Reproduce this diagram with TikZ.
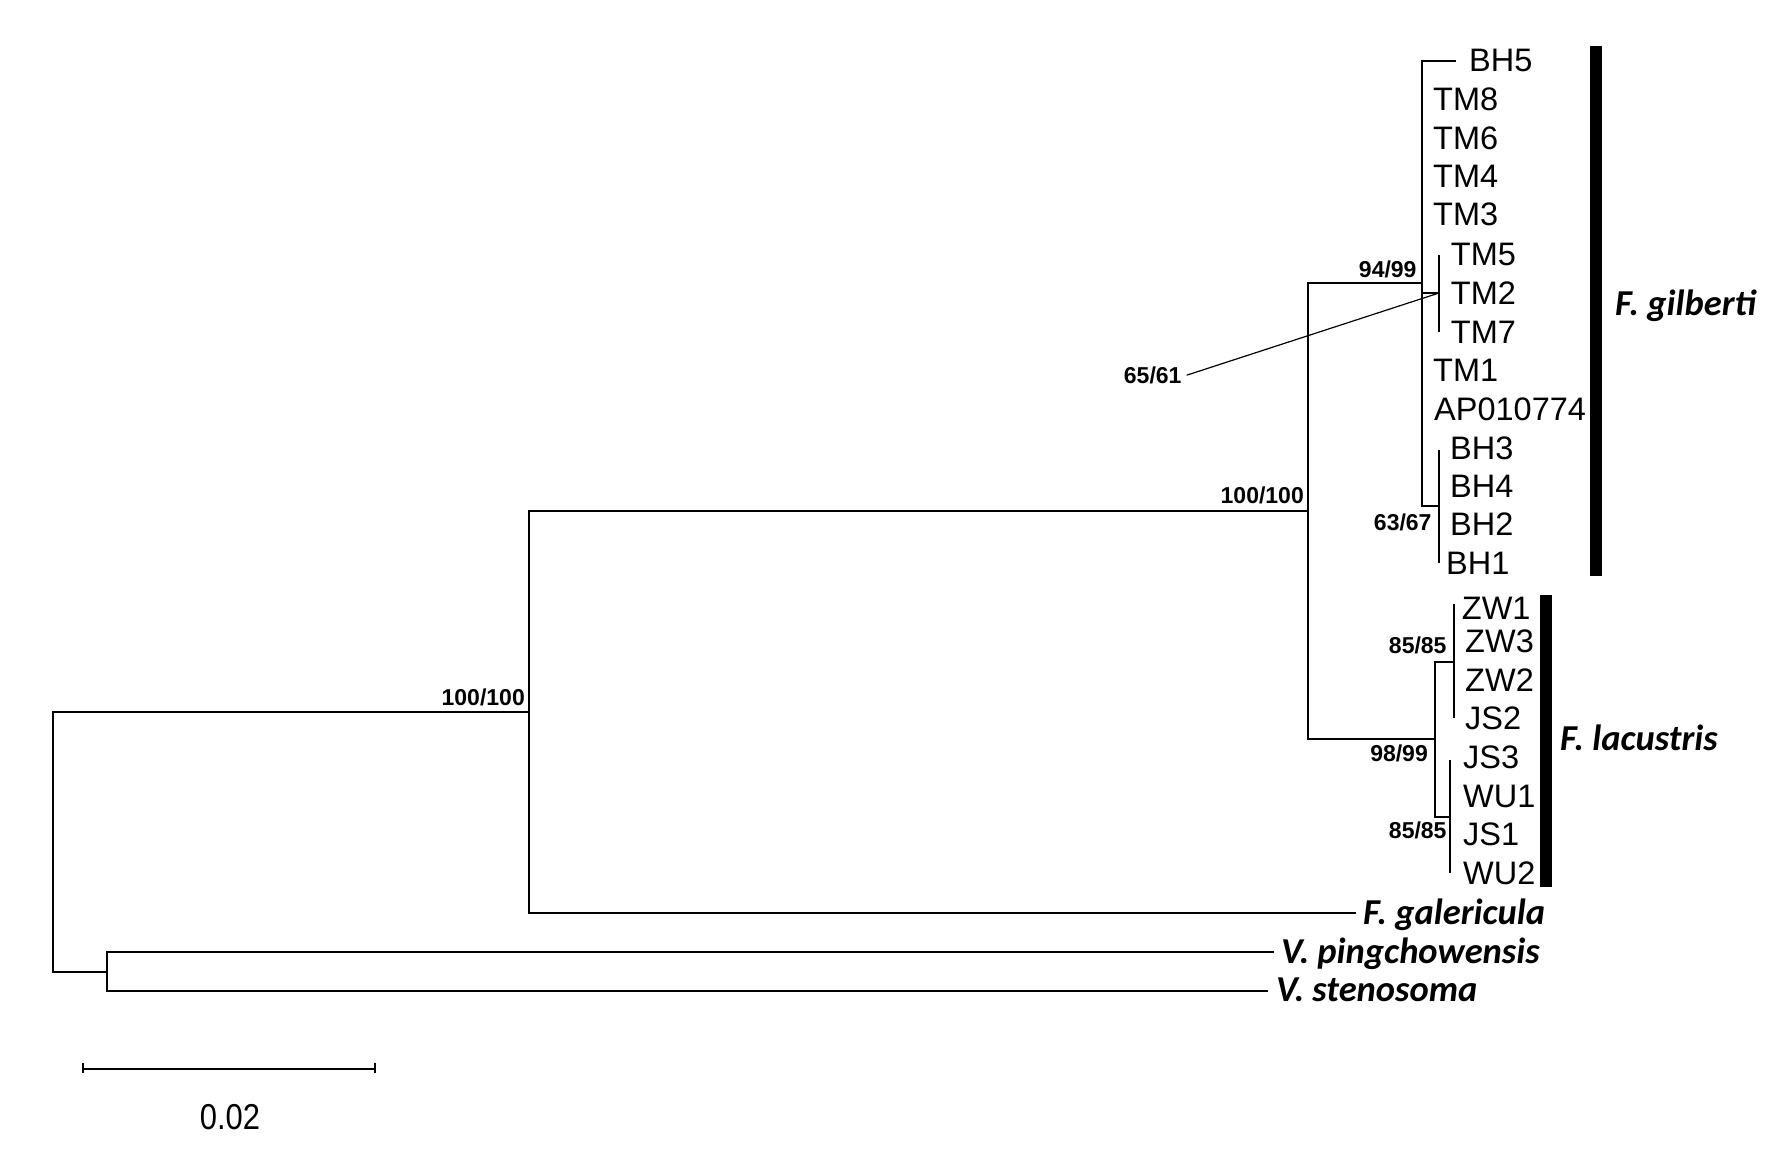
\documentclass[tikz,border=0pt]{standalone}
\usepackage{fontspec}
\setmainfont{Liberation Sans}
\newfontfamily\spfont{Carlito}
\newfontfamily\sbfont[FakeStretch=0.86]{Liberation Sans}
\begin{document}
\begin{tikzpicture}[x=1pt,y=-1pt,
  branch/.style={line width=1.8pt},
  leader/.style={line width=1.2pt},
  scalebar/.style={line width=1.8pt},
  leaf/.style={anchor=west, inner sep=0pt, font=\fontsize{32.5}{39}\selectfont, text height=23.3pt, text depth=0pt},
  species/.style={anchor=west, inner sep=0pt, font=\spfont\bfseries\itshape\fontsize{36.5}{42}\selectfont, text height=23.5pt, text depth=0pt},
  support/.style={anchor=base east, inner sep=0pt, font=\bfseries\fontsize{23}{27}\selectfont},
  cladebar/.style={fill=black}]
\useasboundingbox (0,0) rectangle (1771,1174);

% internal nodes
\coordinate (root) at (53.3,842);
\coordinate (n1) at (529,712);
\coordinate (n2) at (1308,511);
\coordinate (n3) at (1421.7,283);
\coordinate (ntm) at (1439,293);
\coordinate (ntmA) at (1439,255);
\coordinate (ntmB) at (1439,331.5);
\coordinate (nbh) at (1439,506);
\coordinate (nbhA) at (1439,450);
\coordinate (nbhB) at (1439,563);
\coordinate (nlac) at (1435,739);
\coordinate (nzw) at (1454,661.7);
\coordinate (nzwA) at (1454,604);
\coordinate (nzwB) at (1454,718);
\coordinate (njs) at (1450,816.7);
\coordinate (njsA) at (1450,760);
\coordinate (njsB) at (1450,873);
\coordinate (nv) at (106.7,972);
% tips
\coordinate (tBH5) at (1455.7,60.7);
\coordinate (tgal) at (1356,913);
\coordinate (tping) at (1274,952);
\coordinate (tsten) at (1268,991);

% branches
\draw[branch] (n1) -| (root) |- (nv);
\draw[branch] (n2) -| (n1) |- (tgal);
\draw[branch] (n3) -| (n2) |- (nlac);
\draw[branch] (tBH5) -| (n3) |- (nbh);
\draw[branch] (n3 |- ntm) -- (ntm);
\draw[branch] (ntmA) -- (ntmB);
\draw[branch] (nbhA) -- (nbhB);
\draw[branch] (nzw) -| (nlac) |- (njs);
\draw[branch] (nzwA) -- (nzwB);
\draw[branch] (njsA) -- (njsB);
\draw[branch] (tping) -| (nv) |- (tsten);

% leaf labels
\node[leaf] (BH5) at (1469,60) {BH5};
\node[leaf] (TM8) at (1433,99) {TM8};
\node[leaf] (TM6) at (1433,137.5) {TM6};
\node[leaf] (TM4) at (1433,176) {TM4};
\node[leaf] (TM3) at (1433,214) {TM3};
\node[leaf] (TM5) at (1450.7,254) {TM5};
\node[leaf] (TM2) at (1450.7,292.5) {TM2};
\node[leaf] (TM7) at (1450.7,331.5) {TM7};
\node[leaf] (TM1) at (1433,370) {TM1};
\node[leaf] (AP) at (1434,409) {AP010774};
\node[leaf] (BH3) at (1450,447.7) {BH3};
\node[leaf] (BH4) at (1450,486) {BH4};
\node[leaf] (BH2) at (1450,524) {BH2};
\node[leaf] (BH1) at (1446,563) {BH1};
\node[leaf] (ZW1) at (1461.7,608) {ZW1};
\node[leaf] (ZW3) at (1465,641) {ZW3};
\node[leaf] (ZW2) at (1465,680) {ZW2};
\node[leaf] (JS2) at (1465,718) {JS2};
\node[leaf] (JS3) at (1463,757) {JS3};
\node[leaf] (WU1) at (1463,795.5) {WU1};
\node[leaf] (JS1) at (1463,834) {JS1};
\node[leaf] (WU2) at (1463,873) {WU2};

% species labels
\node[species] (gal) at (1363,912.4) {F. galericula};
\node[species] (ping) at (1281,952) {V. pingchowensis};
\node[species] (sten) at (1276,990) {V. stenosoma};
\node[species] (gil) at (1615,304) {F. gilberti};
\node[species] (lac) at (1560,738.5) {F. lacustris};

% clade bars
\fill[cladebar] (1590,46) rectangle (1602,576);
\fill[cladebar] (1540,595) rectangle (1551.7,886.7);

% support values
\node[support] (s9499) at (1416.7,277) {94/99};
\node[support] (s6561) at (1181.7,383.3) {65/61};
\node[support] (s100a) at (1304,503) {100/100};
\node[support] (s100b) at (525,705) {100/100};
\node[support] (s6367) at (1431.7,530) {63/67};
\node[support] (s8585a) at (1446.7,653) {85/85};
\node[support] (s9899) at (1428,761.7) {98/99};
\node[support] (s8585b) at (1446.7,838) {85/85};
\draw[leader] ([xshift=5pt]s6561.east) -- (ntm);

% scale bar
\coordinate (sbl) at (82.7,1069);
\coordinate (sbr) at (375,1069);
\draw[scalebar] (sbl) -- (sbr);
\draw[scalebar] (sbl) ++(0,-6.3) -- ++(0,10.6);
\draw[scalebar] (sbr) ++(0,-6.3) -- ++(0,10.6);
\node[anchor=base, inner sep=0pt, font=\sbfont\fontsize{36}{40}\selectfont] (sblab) at (230,1129) {0.02};
\end{tikzpicture}
\end{document}
